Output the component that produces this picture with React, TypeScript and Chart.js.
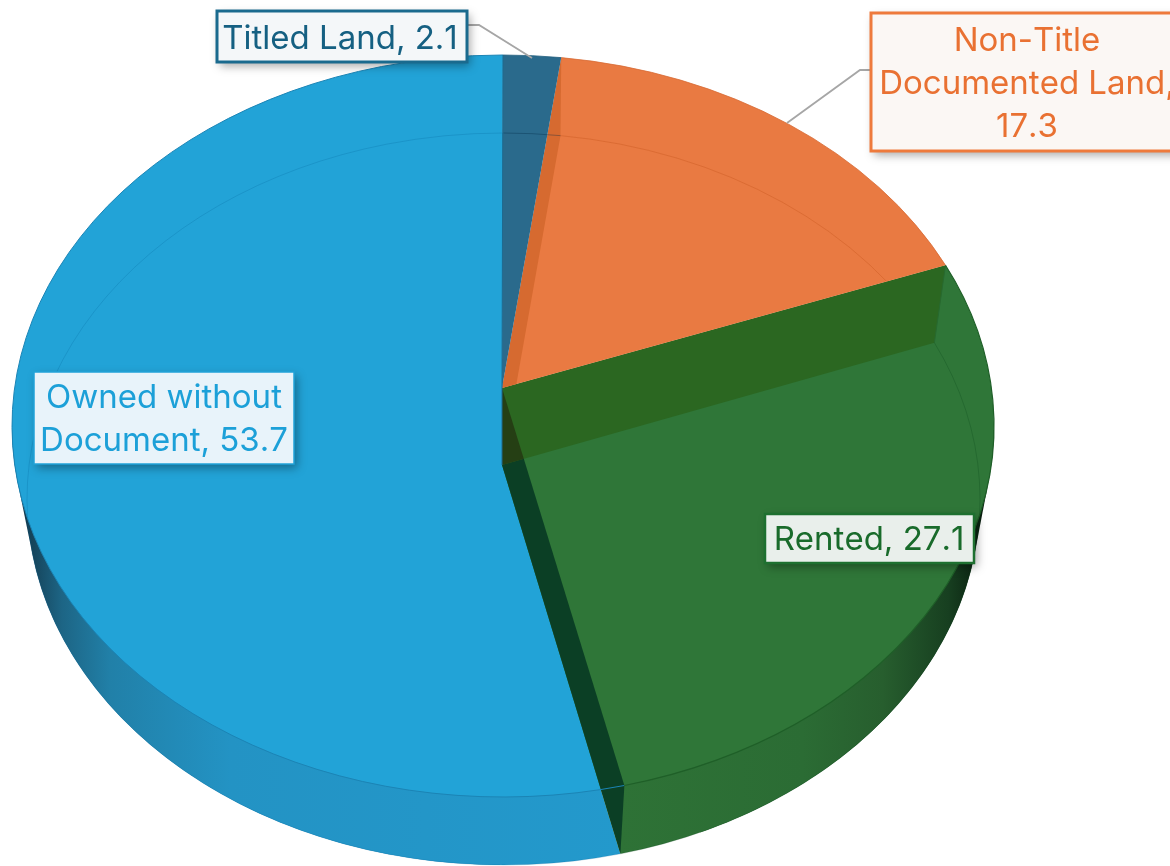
import React, { useEffect, useRef } from "react";
import { Chart, registerables } from "chart.js";

Chart.register(...registerables);

const categories = ["Titled Land", "Non-Title Documented Land", "Rented", "Owned without Document"];
const values = [2.1, 17.3, 27.1, 53.7];
const sliceColors = ["#2a6a8c", "#e97a42", "#2f7638", "#22a3d7"];
const labelLines = [
  ["Titled Land, 2.1"],
  ["Non-Title", "Documented Land,", "17.3"],
  ["Rented, 27.1"],
  ["Owned without", "Document, 53.7"],
];

type Ell = { cx: number; cy: number; rx: number; ry: number; ax: number; ay: number; k: number };
const topFace: Ell = { cx: 503, cy: 426, rx: 491, ry: 371, ax: 502, ay: 388, k: 0.903 };
const baseFace: Ell = { cx: 503.5, cy: 499, rx: 476.5, ry: 366, ax: 502, ay: 465, k: 0.91 };

const labelBoxes = [
  { x: 217, y: 11, w: 250, h: 51, stroke: "#1a6a8e", lw: 3, fill: "#f4f7f9", text: "#156082", tx: 340, base: [49], leader: [[467, 25], [479, 25], [532, 58]] },
  { x: 871, y: 13, w: 310, h: 138, stroke: "#ee7a3c", lw: 3, fill: "#fbf7f4", text: "#e97132", tx: 1027, base: [51, 94, 137], leader: [[871, 70], [860, 70], [787, 123]] },
  { x: 765, y: 514, w: 209, h: 49, stroke: "#1e7030", lw: 2.5, fill: "#e9efeb", text: "#196b2b", tx: 869, base: [550], leader: null },
  { x: 34, y: 372, w: 260, h: 92, stroke: "#21a3d9", lw: 1.5, fill: "#e8f3fa", text: "#1ca0d8", tx: 164, base: [408, 451], leader: null },
];

const FONT = '400 33px Inter, "Noto Sans", sans-serif';

function paramOf(e: Ell, theta: number) {
  return 2 * Math.atan2(e.k * Math.sin(theta / 2), Math.cos(theta / 2));
}
function rimPoint(e: Ell, theta: number): [number, number] {
  const t = paramOf(e, theta);
  return [e.cx + e.rx * Math.sin(t), e.cy - e.ry * Math.cos(t)];
}
function slicePath(ctx: CanvasRenderingContext2D, e: Ell, a: number, b: number) {
  ctx.beginPath();
  ctx.moveTo(e.ax, e.ay);
  ctx.ellipse(e.cx, e.cy, e.rx, e.ry, 0, paramOf(e, a) - Math.PI / 2, paramOf(e, b) - Math.PI / 2);
  ctx.closePath();
}
function rimStroke(ctx: CanvasRenderingContext2D, e: Ell, a: number, b: number, color: string, lw: number) {
  ctx.beginPath();
  ctx.ellipse(e.cx, e.cy, e.rx, e.ry, 0, paramOf(e, a) - Math.PI / 2, paramOf(e, b) - Math.PI / 2);
  ctx.strokeStyle = color;
  ctx.lineWidth = lw;
  ctx.stroke();
}
function wallPath(ctx: CanvasRenderingContext2D, theta: number) {
  const p = rimPoint(topFace, theta);
  const q = rimPoint(baseFace, theta);
  ctx.beginPath();
  ctx.moveTo(topFace.ax, topFace.ay);
  ctx.lineTo(p[0], p[1]);
  ctx.lineTo(q[0], q[1]);
  ctx.lineTo(baseFace.ax, baseFace.ay);
  ctx.closePath();
}
// outline of the whole solid: the convex hull of both faces
function hullPath(ctx: CanvasRenderingContext2D) {
  const pts: [number, number][] = [];
  [topFace, baseFace].forEach((e) => {
    for (let d = 0; d < 360; d += 1) {
      const r = (d * Math.PI) / 180;
      pts.push([e.cx + e.rx * Math.cos(r), e.cy + e.ry * Math.sin(r)]);
    }
  });
  pts.sort((p, q) => p[0] - q[0] || p[1] - q[1]);
  const cross = (o: number[], a: number[], b: number[]) => (a[0] - o[0]) * (b[1] - o[1]) - (a[1] - o[1]) * (b[0] - o[0]);
  const half = (list: [number, number][]) => {
    const h: [number, number][] = [];
    for (const p of list) {
      while (h.length >= 2 && cross(h[h.length - 2], h[h.length - 1], p) <= 0) h.pop();
      h.push(p);
    }
    h.pop();
    return h;
  };
  const hull = half(pts).concat(half(pts.slice().reverse()));
  ctx.beginPath();
  hull.forEach((p, i) => (i ? ctx.lineTo(p[0], p[1]) : ctx.moveTo(p[0], p[1])));
  ctx.closePath();
}

const pie3d = {
  id: "pie3d",
  beforeDatasetsDraw(chart: any) {
    const ctx: CanvasRenderingContext2D = chart.ctx;
    const arcs = chart.getDatasetMeta(0).data;
    const ang = arcs.map((el: any) => {
      const p = el.getProps(["startAngle", "endAngle"], true);
      return [p.startAngle + Math.PI / 2, p.endAngle + Math.PI / 2];
    });
    const [titled, orange, green, blue] = ang;
    ctx.save();

    const blueWall = ctx.createLinearGradient(20, 0, 620, 0);
    blueWall.addColorStop(0, "#12374a");
    blueWall.addColorStop(0.07, "#1d6585");
    blueWall.addColorStop(0.15, "#2180a8");
    blueWall.addColorStop(0.35, "#2393c4");
    blueWall.addColorStop(1, "#2399cc");
    const greenWall = ctx.createLinearGradient(620, 0, 985, 0);
    greenWall.addColorStop(0, "#2e7236");
    greenWall.addColorStop(0.5, "#2b6c34");
    greenWall.addColorStop(0.72, "#275e2e");
    greenWall.addColorStop(0.9, "#173f20");
    greenWall.addColorStop(1, "#081c0e");

    // side slivers of the outline
    ctx.save();
    hullPath(ctx);
    ctx.clip();
    ctx.fillStyle = blueWall;
    ctx.fillRect(0, 430, 500, 436);
    ctx.fillStyle = greenWall;
    ctx.fillRect(700, 430, 470, 436);
    ctx.restore();

    // side wall of the owned slice
    slicePath(ctx, baseFace, blue[0], blue[1]);
    ctx.fillStyle = blueWall;
    ctx.fill();
    slicePath(ctx, topFace, blue[0], blue[1]);
    ctx.fillStyle = sliceColors[3];
    ctx.fill();

    // side wall of the rented slice
    slicePath(ctx, baseFace, green[0], green[1]);
    ctx.fillStyle = greenWall;
    ctx.fill();
    slicePath(ctx, topFace, green[0], green[1]);
    ctx.fillStyle = sliceColors[2];
    ctx.fill();

    // radial walls
    wallPath(ctx, green[1]);
    ctx.fillStyle = "#0b3f25";
    ctx.fill();
    wallPath(ctx, green[0]);
    ctx.fillStyle = "#2b6721";
    ctx.fill();
    const q = rimPoint(baseFace, green[0]);
    const p = rimPoint(topFace, green[0]);
    ctx.beginPath();
    ctx.moveTo(p[0], p[1]);
    ctx.lineTo(q[0], q[1]);
    ctx.strokeStyle = "#27692f";
    ctx.lineWidth = 1;
    ctx.stroke();
    ctx.save();
    wallPath(ctx, green[1]);
    ctx.clip();
    wallPath(ctx, green[0]);
    ctx.fillStyle = "#253f14";
    ctx.fill();
    ctx.restore();

    // non-title slice and titled slice
    slicePath(ctx, topFace, orange[0], orange[1]);
    ctx.fillStyle = sliceColors[1];
    ctx.fill();
    ctx.save();
    slicePath(ctx, topFace, orange[0], orange[1]);
    ctx.clip();
    wallPath(ctx, orange[0]);
    ctx.fillStyle = "#d66a30";
    ctx.fill();
    rimStroke(ctx, baseFace, orange[0], orange[1], "rgba(190,75,20,0.3)", 1);
    ctx.restore();
    slicePath(ctx, topFace, titled[0], titled[1]);
    ctx.fillStyle = sliceColors[0];
    ctx.fill();

    // base rim seen through the pie
    rimStroke(ctx, baseFace, blue[0], blue[1], "rgba(0,95,150,0.22)", 1);
    rimStroke(ctx, baseFace, titled[0], titled[1], "rgba(0,40,70,0.35)", 1);
    rimStroke(ctx, baseFace, green[0], green[1], "rgba(0,60,20,0.22)", 1);

    // top rim
    rimStroke(ctx, topFace, blue[0], blue[1], "#1b84b5", 1);
    rimStroke(ctx, topFace, green[0], green[1], "#1f5f28", 1.2);
    rimStroke(ctx, topFace, orange[0], orange[1], "#d76a33", 0.8);
    rimStroke(ctx, topFace, titled[0], titled[1], "#23607f", 0.8);

    // slice edges
    const e = rimPoint(topFace, 0);
    ctx.beginPath();
    ctx.moveTo(topFace.ax, topFace.ay);
    ctx.lineTo(e[0], e[1]);
    ctx.moveTo(topFace.ax, topFace.ay);
    ctx.lineTo(baseFace.ax, baseFace.ay);
    ctx.strokeStyle = "#1d6a90";
    ctx.lineWidth = 1;
    ctx.stroke();
    ctx.restore();
    return false;
  },
  afterDraw(chart: any) {
    const ctx: CanvasRenderingContext2D = chart.ctx;
    ctx.save();
    labelBoxes.forEach((b, i) => {
      if (b.leader) {
        ctx.beginPath();
        b.leader.forEach((pt, j) => (j ? ctx.lineTo(pt[0], pt[1]) : ctx.moveTo(pt[0], pt[1])));
        ctx.strokeStyle = "#a6a6a6";
        ctx.lineWidth = 1.8;
        ctx.stroke();
      }
      ctx.save();
      ctx.shadowColor = "rgba(0,0,0,0.35)";
      ctx.shadowBlur = 9;
      ctx.shadowOffsetX = 3;
      ctx.shadowOffsetY = 4;
      ctx.fillStyle = b.fill;
      ctx.fillRect(b.x, b.y, b.w, b.h);
      ctx.restore();
      ctx.strokeStyle = b.stroke;
      ctx.lineWidth = b.lw;
      ctx.strokeRect(b.x, b.y, b.w, b.h);
      ctx.fillStyle = b.text;
      ctx.font = FONT;
      (ctx as any).fontKerning = "none";
      ctx.textAlign = "center";
      ctx.textBaseline = "alphabetic";
      labelLines[i].forEach((line, j) => ctx.fillText(line, b.tx, b.base[j]));
    });
    ctx.restore();
  },
};

export default function App() {
  const ref = useRef<HTMLCanvasElement>(null);
  useEffect(() => {
    const chart = new Chart(ref.current!, {
      type: "pie",
      data: {
        labels: categories,
        datasets: [{ data: values, backgroundColor: sliceColors, borderWidth: 0 }],
      },
      options: {
        animation: false,
        responsive: false,
        events: [],
        plugins: { legend: { display: false }, title: { display: false }, tooltip: { enabled: false } },
      },
      plugins: [pie3d],
    } as any);
    return () => chart.destroy();
  }, []);
  return (
    <div style={{ position: "fixed", left: 0, top: 0, width: 1170, height: 866, background: "#fff" }}>
      <canvas ref={ref} width={1170} height={866} style={{ display: "block" }} />
    </div>
  );
}
